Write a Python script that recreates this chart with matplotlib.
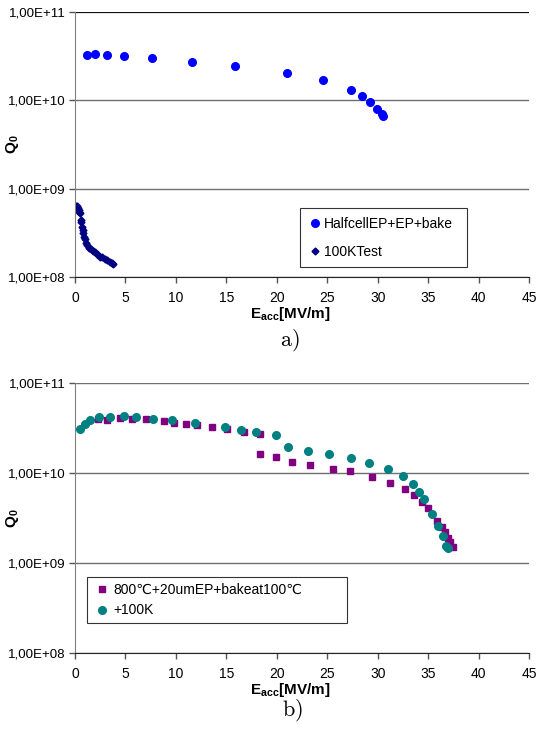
import matplotlib
matplotlib.use('Agg')
import matplotlib.pyplot as plt
from matplotlib.ticker import FixedLocator, NullLocator

plt.rcParams['font.family'] = ['Liberation Sans', 'DejaVu Sans']
plt.rcParams['mathtext.fontset'] = 'custom'
plt.rcParams['mathtext.rm'] = 'Liberation Sans'
plt.rcParams['mathtext.bf'] = 'Liberation Sans:bold'

# panel a) data
halfcell_e = [1.22, 1.98, 3.14, 4.82, 7.63, 11.63, 15.89, 20.98, 24.58, 27.32,
              28.44, 29.24, 29.93, 30.43, 30.53]
halfcell_q = [3.29e10, 3.32e10, 3.26e10, 3.18e10, 3.01e10, 2.73e10, 2.43e10,
              2.04e10, 1.70e10, 1.32e10, 1.11e10, 9.49e9, 7.96e9, 7.0e9, 6.64e9]

test100k_e = [0.10, 0.17, 0.28, 0.36, 0.43, 0.50, 0.56, 0.63, 0.70, 0.76, 0.83,
              0.89, 0.98, 1.09, 1.22, 1.36, 1.55, 1.81, 1.98, 2.15, 2.30, 2.48,
              2.72, 2.97, 3.20, 3.47, 3.65, 3.80]
test100k_q = [6.4e8, 6.3e8, 6.1e8, 5.8e8, 5.5e8, 5.25e8, 4.4e8, 4.2e8, 3.7e8,
              3.4e8, 3.12e8, 2.85e8, 2.67e8, 2.45e8, 2.30e8, 2.15e8, 2.05e8,
              1.95e8, 1.90e8, 1.82e8, 1.77e8, 1.70e8, 1.67e8, 1.60e8, 1.55e8,
              1.48e8, 1.43e8, 1.39e8]

# panel b) data
bake_e = [2.28, 3.14, 4.46, 5.62, 7.0, 8.79, 9.78, 11.0, 12.09, 13.55, 15.06,
          16.72, 18.37, 18.34, 19.89, 21.5, 23.29, 25.53, 27.25, 29.43, 31.22,
          32.7, 33.6, 34.39, 34.99, 35.85, 36.37, 36.64, 37.0, 37.2, 37.47]
bake_q = [3.94e10, 3.91e10, 4.05e10, 3.94e10, 3.94e10, 3.75e10, 3.62e10,
          3.5e10, 3.43e10, 3.26e10, 3.1e10, 2.87e10, 2.68e10, 1.64e10, 1.52e10,
          1.31e10, 1.21e10, 1.12e10, 1.04e10, 9.1e9, 7.8e9, 6.7e9, 5.75e9,
          4.8e9, 4.1e9, 2.95e9, 2.53e9, 2.22e9, 1.9e9, 1.72e9, 1.51e9]

plus100k_e = [0.53, 0.96, 1.52, 2.38, 3.5, 4.89, 6.08, 7.7, 9.65, 11.86, 14.84,
              16.48, 17.97, 19.89, 21.08, 23.12, 25.17, 27.35, 29.14, 31.05,
              32.5, 33.46, 34.06, 34.55, 35.38, 36.0, 36.44, 36.8, 36.97]
plus100k_q = [3.1e10, 3.52e10, 3.85e10, 4.15e10, 4.2e10, 4.26e10, 4.15e10,
              4.0e10, 3.84e10, 3.59e10, 3.21e10, 2.97e10, 2.82e10, 2.62e10,
              1.96e10, 1.77e10, 1.63e10, 1.45e10, 1.29e10, 1.1e10, 9.2e9, 7.5e9,
              6.2e9, 5.1e9, 3.5e9, 2.6e9, 1.97e9, 1.56e9, 1.45e9]

x_ticks = [0, 5, 10, 15, 20, 25, 30, 35, 40, 45]
y_ticks = [1e8, 1e9, 1e10, 1e11]
y_labels = ['1,00E+08', '1,00E+09', '1,00E+10', '1,00E+11']


def style_axes(ax):
    ax.set_yscale('log')
    ax.set_xlim(0, 45)
    ax.set_ylim(1e8, 1e11)
    ax.xaxis.set_major_locator(FixedLocator(x_ticks))
    ax.yaxis.set_major_locator(FixedLocator(y_ticks))
    ax.yaxis.set_minor_locator(NullLocator())
    ax.set_yticklabels(y_labels)
    ax.tick_params(labelsize=10, length=4, width=1, color='#555555')
    ax.tick_params(axis='x', pad=6)
    ax.tick_params(axis='y', labelsize=9.6, pad=3)
    ax.grid(axis='y', color='#707070', lw=1)
    ax.set_axisbelow(True)
    for s in ['top', 'right']:
        ax.spines[s].set_visible(False)
    ax.spines['left'].set_color('#808080')
    ax.spines['bottom'].set_color('#222222')
    ax.set_ylabel(r'Q$_\mathbf{0}$', fontsize=11, fontweight='bold')
    ax.yaxis.set_label_coords(-0.118, 0.5)
    ax.set_xlabel(r'E$_{\mathbf{acc}}$[MV/m]', fontsize=11, fontweight='bold')
    ax.xaxis.set_label_coords(0.475, -0.105)


fig = plt.figure(figsize=(5.37, 7.29), dpi=100)

ax1 = fig.add_axes([0.1397, 0.620, 0.8454, 0.3635])
ax1.plot(halfcell_e, halfcell_q, 'o', color='#0000ff', ms=5.5, label='HalfcellEP+EP+bake')
ax1.plot(test100k_e, test100k_q, 'D', color='#000080', ms=3.5, label='100KTest')
style_axes(ax1)
ax1.axhline(1e11, color='black', lw=1.2)
leg1 = ax1.legend(loc='lower left', bbox_to_anchor=(0.4956, 0.038, 0.3678, 0.2),
                  mode='expand', fontsize=10, frameon=True, fancybox=False,
                  edgecolor='black', borderpad=0.6, handletextpad=0.1,
                  handlelength=1.0, labelspacing=1.0, borderaxespad=0)
leg1.get_frame().set_linewidth(0.8)
fig.text(0.54, 0.534, r'$\mathrm{a)}$', fontsize=16, ha='center', va='center',
         math_fontfamily='cm')

ax2 = fig.add_axes([0.1397, 0.1043, 0.8454, 0.3704])
ax2.plot(bake_e, bake_q, 's', color='#800080', ms=4.2,
         label='800\u2103+20umEP+bakeat100\u2103')
ax2.plot(plus100k_e, plus100k_q, 'o', color='#008080', ms=5.5, label='+100K')
style_axes(ax2)
leg2 = ax2.legend(loc='lower left', bbox_to_anchor=(0.0264, 0.111, 0.573, 0.17),
                  mode='expand', fontsize=10, frameon=True, fancybox=False,
                  edgecolor='black', borderpad=0.4, handletextpad=0.1,
                  handlelength=1.4, labelspacing=0.5, borderaxespad=0)
leg2.get_frame().set_linewidth(0.8)
fig.text(0.544, 0.026, r'$\mathrm{b)}$', fontsize=16, ha='center', va='center',
         math_fontfamily='cm')

fig.savefig('out.png', dpi=100)
